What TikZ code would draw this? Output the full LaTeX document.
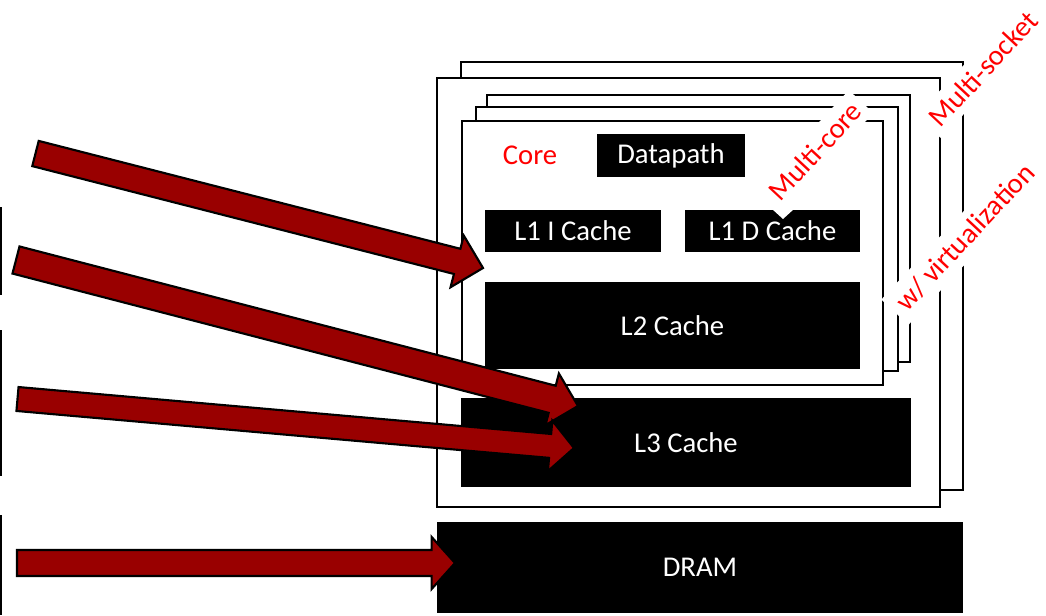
\documentclass[tikz,border=0pt]{standalone}
\usepackage{fontspec}
\setmainfont{Carlito}
\usetikzlibrary{calc,fit}
\definecolor{arrowred}{HTML}{990000}
\newcommand{\dfont}{\fontsize{21.5}{25}\selectfont}
% fat arrow: #1 tail, #2 tip, #3 shaft half-width, #4 head half-width, #5 head length
\newcommand{\fatarrow}[5]{%
  \coordinate (nk) at ($(#2)!#5!(#1)$);
  \draw[bigarrow] ($(#1)!#3!90:(#2)$) -- ($(nk)!#3!90:(#2)$) -- ($(nk)!#4!90:(#2)$) -- (#2)
    -- ($(nk)!#4!-90:(#2)$) -- ($(nk)!#3!-90:(#2)$) -- ($(#1)!#3!-90:(#2)$) -- cycle;}
\begin{document}
\begin{tikzpicture}[x=0.75pt,y=-0.75pt,
  frame/.style={draw=black, line width=2pt, fill=white, inner sep=0pt},
  blk/.style={fill=black, inner sep=0pt},
  wtxt/.style={text=white, inner sep=0pt, font=\dfont},
  redlbl/.style={text=red, fill=white, rotate=47, inner sep=5pt, font=\dfont},
  bigarrow/.style={draw=black, line width=1.6pt, fill=arrowred, line join=miter}]
\useasboundingbox (0,0) rectangle (1046,615);

% edge marks
\draw[line width=1.5pt] (0.5,207) -- (0.5,295);
\draw[line width=1.5pt] (0.5,330) -- (0.5,476);
\draw[line width=1.5pt] (0.5,515) -- (0.5,615);

% sockets
\node[frame, fit={(461,62) (963,490)}] (sock2) {};
\node[frame, fit={(437,78) (940,507)}] (sock1) {};
% cores
\node[frame, fit={(487,95) (910,362)}] (core3) {};
\node[frame, fit={(476,107) (898,371)}] (core2) {};
\node[frame, fit={(462,121) (883,385)}] (core1) {};

\node[text=red, font=\dfont] (corelbl) at (530,155) {Core};
\node[blk, fit={(597,134) (745,177)}] (dp) {};
\node[wtxt] at (dp.center) {Datapath};
\node[blk, fit={(485,210) (661,252)}] (l1i) {};
\node[wtxt] at (l1i.center) {L1 I Cache};
\node[blk, fit={(685,210) (860,252)}] (l1d) {};
\fill[white] (772,209) -- (794,209) -- (783,219) -- cycle;
\node[wtxt] at (l1d.center) {L1 D Cache};
\node[blk, fit={(485,282) (860,369)}] (l2) {};
\node[wtxt] at (l2.center) {L2 Cache};
\node[blk, fit={(461,398) (911,487)}] (l3) {};
\node[wtxt] at (l3.center) {L3 Cache};
\node[blk, fit={(437,522) (963,613)}] (dram) {};
\node[wtxt] at (dram.center) {DRAM};

% labels
\node[redlbl] (mc) at (815,151) {Multi-core};
\node[redlbl] (ms) at (983,69) {Multi-socket};
\node[redlbl, inner sep=6pt] (wv) at (965,237) {w/ virtualization};

% arrows
\coordinate (t1) at (35.5,153.5); \coordinate (h1) at (483,268);
\coordinate (t2) at (16,260);     \coordinate (h2) at (578,406);
\coordinate (t3) at (17.5,399);   \coordinate (h3) at (574,448);
\coordinate (t4) at (17,563);     \coordinate (h4) at (455,563);
\fatarrow{t1}{h1}{9.75pt}{20pt}{20pt}
\fatarrow{t2}{h2}{10.5pt}{20pt}{20pt}
\fatarrow{t3}{h3}{9pt}{19pt}{18pt}
\fatarrow{t4}{h4}{9.75pt}{19.5pt}{17.5pt}
\end{tikzpicture}
\end{document}
